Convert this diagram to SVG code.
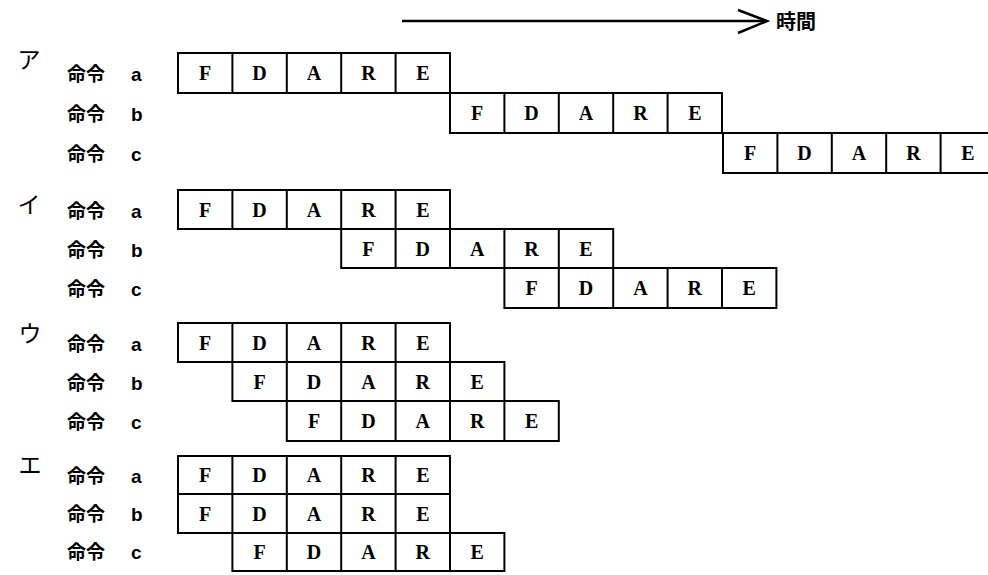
<svg xmlns="http://www.w3.org/2000/svg" width="988" height="575" viewBox="0 0 988 575">
<style>
.pipe rect, .pipe path { fill: none; stroke: #000; stroke-width: 2; }
.pipe text { font-family: "Liberation Serif", serif; font-weight: bold; font-size: 20px; text-anchor: middle; fill: #000; }
.lab { font-family: "Liberation Sans", "Noto Sans CJK JP", sans-serif; font-weight: bold; font-size: 19px; fill: #000; }
.opt { font-family: "Noto Sans CJK JP", sans-serif; font-size: 23px; text-anchor: middle; fill: #000; }
.axis { fill: none; stroke: #000; stroke-width: 2.5; }
</style>
<rect width="988" height="575" fill="#fff"/>

<g id="connectors">
  <path class="axis" d="M402 21 H766"/>
  <path class="axis" d="M738 10 L767 21 L738 33" stroke-width="3"/>
</g>
<text x="776" y="29" font-family="Noto Sans CJK JP, sans-serif" font-weight="bold" font-size="20">時間</text>

<!-- option labels -->
<text class="opt" x="29" y="68">ア</text>
<text class="opt" x="29" y="213">イ</text>
<text class="opt" x="30" y="342">ウ</text>
<text class="opt" x="30" y="473">エ</text>

<!-- ア -->
<text class="lab" x="67" y="81">命令 <tspan x="131">a</tspan></text>
<text class="lab" x="67" y="121">命令 <tspan x="131">b</tspan></text>
<text class="lab" x="67" y="161">命令 <tspan x="131">c</tspan></text>
<g id="A-a" class="pipe" transform="translate(178,53)"><rect width="272" height="40"/><path d="M54.4 0v40M108.8 0v40M163.2 0v40M217.6 0v40"/><text x="27.2" y="27">F</text><text x="81.6" y="27">D</text><text x="136" y="27">A</text><text x="190.4" y="27">R</text><text x="244.8" y="27">E</text></g>
<g id="A-b" class="pipe" transform="translate(450,93)"><rect width="272" height="40"/><path d="M54.4 0v40M108.8 0v40M163.2 0v40M217.6 0v40"/><text x="27.2" y="27">F</text><text x="81.6" y="27">D</text><text x="136" y="27">A</text><text x="190.4" y="27">R</text><text x="244.8" y="27">E</text></g>
<g id="A-c" class="pipe" transform="translate(723,133)"><rect width="272" height="40"/><path d="M54.4 0v40M108.8 0v40M163.2 0v40M217.6 0v40"/><text x="27.2" y="27">F</text><text x="81.6" y="27">D</text><text x="136" y="27">A</text><text x="190.4" y="27">R</text><text x="244.8" y="27">E</text></g>

<!-- イ -->
<text class="lab" x="67" y="218">命令 <tspan x="131">a</tspan></text>
<text class="lab" x="67" y="257">命令 <tspan x="131">b</tspan></text>
<text class="lab" x="67" y="296">命令 <tspan x="131">c</tspan></text>
<g id="I-a" class="pipe" transform="translate(178,190)"><rect width="272" height="39"/><path d="M54.4 0v39M108.8 0v39M163.2 0v39M217.6 0v39"/><text x="27.2" y="27">F</text><text x="81.6" y="27">D</text><text x="136" y="27">A</text><text x="190.4" y="27">R</text><text x="244.8" y="27">E</text></g>
<g id="I-b" class="pipe" transform="translate(341.2,229)"><rect width="272" height="39"/><path d="M54.4 0v39M108.8 0v39M163.2 0v39M217.6 0v39"/><text x="27.2" y="27">F</text><text x="81.6" y="27">D</text><text x="136" y="27">A</text><text x="190.4" y="27">R</text><text x="244.8" y="27">E</text></g>
<g id="I-c" class="pipe" transform="translate(504.4,268)"><rect width="272" height="40"/><path d="M54.4 0v40M108.8 0v40M163.2 0v40M217.6 0v40"/><text x="27.2" y="27">F</text><text x="81.6" y="27">D</text><text x="136" y="27">A</text><text x="190.4" y="27">R</text><text x="244.8" y="27">E</text></g>

<!-- ウ -->
<text class="lab" x="67" y="351">命令 <tspan x="131">a</tspan></text>
<text class="lab" x="67" y="390">命令 <tspan x="131">b</tspan></text>
<text class="lab" x="67" y="429">命令 <tspan x="131">c</tspan></text>
<g id="U-a" class="pipe" transform="translate(178,323)"><rect width="272" height="39"/><path d="M54.4 0v39M108.8 0v39M163.2 0v39M217.6 0v39"/><text x="27.2" y="27">F</text><text x="81.6" y="27">D</text><text x="136" y="27">A</text><text x="190.4" y="27">R</text><text x="244.8" y="27">E</text></g>
<g id="U-b" class="pipe" transform="translate(232.4,362)"><rect width="272" height="39"/><path d="M54.4 0v39M108.8 0v39M163.2 0v39M217.6 0v39"/><text x="27.2" y="27">F</text><text x="81.6" y="27">D</text><text x="136" y="27">A</text><text x="190.4" y="27">R</text><text x="244.8" y="27">E</text></g>
<g id="U-c" class="pipe" transform="translate(286.8,401)"><rect width="272" height="40"/><path d="M54.4 0v40M108.8 0v40M163.2 0v40M217.6 0v40"/><text x="27.2" y="27">F</text><text x="81.6" y="27">D</text><text x="136" y="27">A</text><text x="190.4" y="27">R</text><text x="244.8" y="27">E</text></g>

<!-- エ -->
<text class="lab" x="67" y="483">命令 <tspan x="131">a</tspan></text>
<text class="lab" x="67" y="521">命令 <tspan x="131">b</tspan></text>
<text class="lab" x="67" y="559">命令 <tspan x="131">c</tspan></text>
<g id="E-a" class="pipe" transform="translate(178,456)"><rect width="272" height="38"/><path d="M54.4 0v38M108.8 0v38M163.2 0v38M217.6 0v38"/><text x="27.2" y="26">F</text><text x="81.6" y="26">D</text><text x="136" y="26">A</text><text x="190.4" y="26">R</text><text x="244.8" y="26">E</text></g>
<g id="E-b" class="pipe" transform="translate(178,494)"><rect width="272" height="39"/><path d="M54.4 0v39M108.8 0v39M163.2 0v39M217.6 0v39"/><text x="27.2" y="27">F</text><text x="81.6" y="27">D</text><text x="136" y="27">A</text><text x="190.4" y="27">R</text><text x="244.8" y="27">E</text></g>
<g id="E-c" class="pipe" transform="translate(232.4,533)"><rect width="272" height="38"/><path d="M54.4 0v38M108.8 0v38M163.2 0v38M217.6 0v38"/><text x="27.2" y="26">F</text><text x="81.6" y="26">D</text><text x="136" y="26">A</text><text x="190.4" y="26">R</text><text x="244.8" y="26">E</text></g>
</svg>
